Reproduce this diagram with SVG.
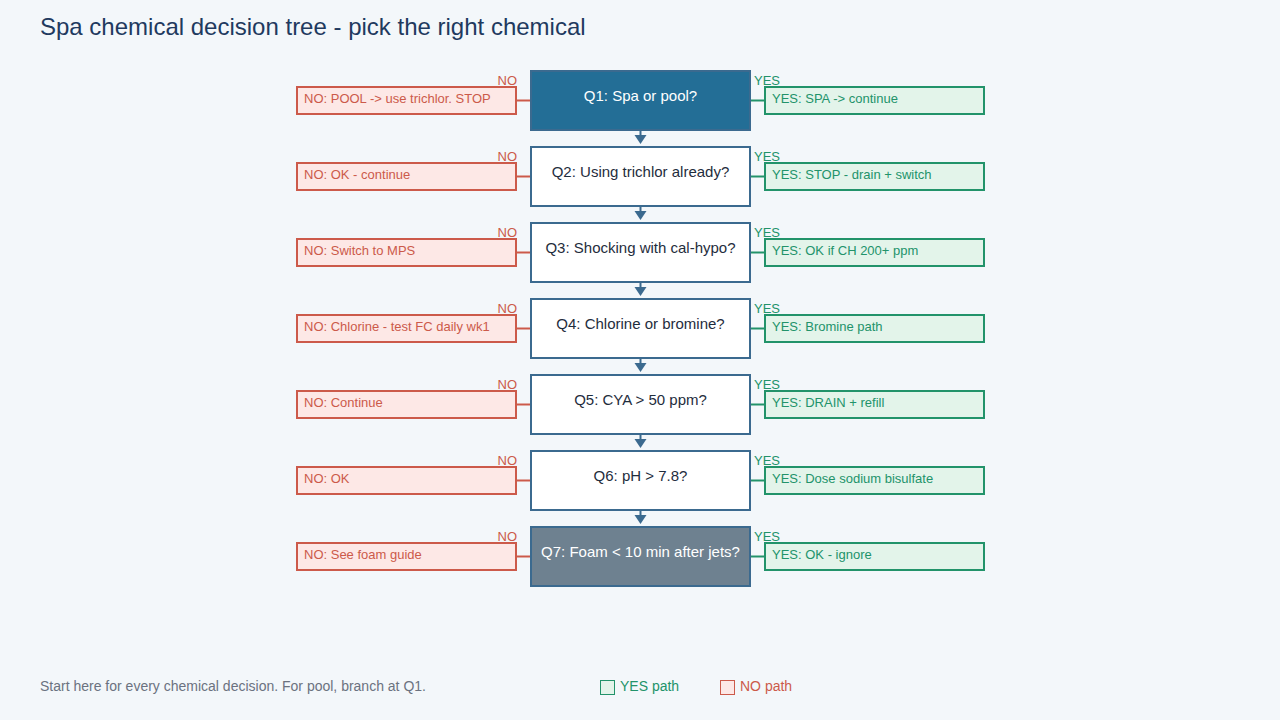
<svg xmlns="http://www.w3.org/2000/svg" width="1280" height="720" viewBox="0 0 1280 720">
<defs>
<style>
text{font-family:"Liberation Sans",Arial,sans-serif}
.q{fill:#ffffff;stroke:#3b6a8f;stroke-width:2}
.qt{font-size:15px;fill:#1f2d3d;text-anchor:middle}
.qtw{font-size:15px;fill:#ffffff;text-anchor:middle}
.no{fill:#fde8e6;stroke:#cc5a4a;stroke-width:2}
.yes{fill:#e3f4ea;stroke:#22936a;stroke-width:2}
.nt{font-size:13px;fill:#cc5a4a}
.yt{font-size:13px;fill:#22936a}
.nl{font-size:13px;fill:#cc5a4a;text-anchor:end}
.yl{font-size:13px;fill:#22936a}
.cn{stroke:#cc5a4a;stroke-width:2}
.cy{stroke:#22936a;stroke-width:2}
.cd{stroke:#3b6a8f;stroke-width:2}
.ah{fill:#3b6a8f}
</style>
</defs>
<rect width="1280" height="720" fill="#f3f7fa"/>
<text x="40" y="35" font-size="24" fill="#1f3a5f">Spa chemical decision tree - pick the right chemical</text>

<g id="connectors">
<line class="cd" x1="640.5" y1="130" x2="640.5" y2="137"/><path class="ah" d="M634.5,135 L646.5,135 L640.5,144 Z"/>
<line class="cd" x1="640.5" y1="206" x2="640.5" y2="213"/><path class="ah" d="M634.5,211 L646.5,211 L640.5,220 Z"/>
<line class="cd" x1="640.5" y1="282" x2="640.5" y2="289"/><path class="ah" d="M634.5,287 L646.5,287 L640.5,296 Z"/>
<line class="cd" x1="640.5" y1="358" x2="640.5" y2="365"/><path class="ah" d="M634.5,363 L646.5,363 L640.5,372 Z"/>
<line class="cd" x1="640.5" y1="434" x2="640.5" y2="441"/><path class="ah" d="M634.5,439 L646.5,439 L640.5,448 Z"/>
<line class="cd" x1="640.5" y1="510" x2="640.5" y2="517"/><path class="ah" d="M634.5,515 L646.5,515 L640.5,524 Z"/>
<line class="cn" x1="516" y1="100.5" x2="531" y2="100.5"/><line class="cy" x1="750" y1="100.5" x2="765" y2="100.5"/>
<line class="cn" x1="516" y1="176.5" x2="531" y2="176.5"/><line class="cy" x1="750" y1="176.5" x2="765" y2="176.5"/>
<line class="cn" x1="516" y1="252.5" x2="531" y2="252.5"/><line class="cy" x1="750" y1="252.5" x2="765" y2="252.5"/>
<line class="cn" x1="516" y1="328.5" x2="531" y2="328.5"/><line class="cy" x1="750" y1="328.5" x2="765" y2="328.5"/>
<line class="cn" x1="516" y1="404.5" x2="531" y2="404.5"/><line class="cy" x1="750" y1="404.5" x2="765" y2="404.5"/>
<line class="cn" x1="516" y1="480.5" x2="531" y2="480.5"/><line class="cy" x1="750" y1="480.5" x2="765" y2="480.5"/>
<line class="cn" x1="516" y1="556.5" x2="531" y2="556.5"/><line class="cy" x1="750" y1="556.5" x2="765" y2="556.5"/>
</g>

<g id="q1">
<rect x="531" y="71" width="219" height="59" fill="#236e96" stroke="#3b6a8f" stroke-width="2"/>
<text class="qtw" x="640.5" y="101">Q1: Spa or pool?</text>
<text class="nl" x="517" y="85">NO</text><text class="yl" x="754" y="85">YES</text>
<rect class="no" x="297" y="87" width="219" height="27"/><text class="nt" x="304" y="103">NO: POOL -&gt; use trichlor. STOP</text>
<rect class="yes" x="765" y="87" width="219" height="27"/><text class="yt" x="772" y="103">YES: SPA -&gt; continue</text>
</g>
<g id="q2">
<rect class="q" x="531" y="147" width="219" height="59"/>
<text class="qt" x="640.5" y="177">Q2: Using trichlor already?</text>
<text class="nl" x="517" y="161">NO</text><text class="yl" x="754" y="161">YES</text>
<rect class="no" x="297" y="163" width="219" height="27"/><text class="nt" x="304" y="179">NO: OK - continue</text>
<rect class="yes" x="765" y="163" width="219" height="27"/><text class="yt" x="772" y="179">YES: STOP - drain + switch</text>
</g>
<g id="q3">
<rect class="q" x="531" y="223" width="219" height="59"/>
<text class="qt" x="640.5" y="253">Q3: Shocking with cal-hypo?</text>
<text class="nl" x="517" y="237">NO</text><text class="yl" x="754" y="237">YES</text>
<rect class="no" x="297" y="239" width="219" height="27"/><text class="nt" x="304" y="255">NO: Switch to MPS</text>
<rect class="yes" x="765" y="239" width="219" height="27"/><text class="yt" x="772" y="255">YES: OK if CH 200+ ppm</text>
</g>
<g id="q4">
<rect class="q" x="531" y="299" width="219" height="59"/>
<text class="qt" x="640.5" y="329">Q4: Chlorine or bromine?</text>
<text class="nl" x="517" y="313">NO</text><text class="yl" x="754" y="313">YES</text>
<rect class="no" x="297" y="315" width="219" height="27"/><text class="nt" x="304" y="331">NO: Chlorine - test FC daily wk1</text>
<rect class="yes" x="765" y="315" width="219" height="27"/><text class="yt" x="772" y="331">YES: Bromine path</text>
</g>
<g id="q5">
<rect class="q" x="531" y="375" width="219" height="59"/>
<text class="qt" x="640.5" y="405">Q5: CYA &gt; 50 ppm?</text>
<text class="nl" x="517" y="389">NO</text><text class="yl" x="754" y="389">YES</text>
<rect class="no" x="297" y="391" width="219" height="27"/><text class="nt" x="304" y="407">NO: Continue</text>
<rect class="yes" x="765" y="391" width="219" height="27"/><text class="yt" x="772" y="407">YES: DRAIN + refill</text>
</g>
<g id="q6">
<rect class="q" x="531" y="451" width="219" height="59"/>
<text class="qt" x="640.5" y="481">Q6: pH &gt; 7.8?</text>
<text class="nl" x="517" y="465">NO</text><text class="yl" x="754" y="465">YES</text>
<rect class="no" x="297" y="467" width="219" height="27"/><text class="nt" x="304" y="483">NO: OK</text>
<rect class="yes" x="765" y="467" width="219" height="27"/><text class="yt" x="772" y="483">YES: Dose sodium bisulfate</text>
</g>
<g id="q7">
<rect x="531" y="527" width="219" height="59" fill="#6e8190" stroke="#3b6a8f" stroke-width="2"/>
<text class="qtw" x="640.5" y="557">Q7: Foam &lt; 10 min after jets?</text>
<text class="nl" x="517" y="541">NO</text><text class="yl" x="754" y="541">YES</text>
<rect class="no" x="297" y="543" width="219" height="27"/><text class="nt" x="304" y="559">NO: See foam guide</text>
<rect class="yes" x="765" y="543" width="219" height="27"/><text class="yt" x="772" y="559">YES: OK - ignore</text>
</g>

<g id="footer">
<text x="40" y="691" font-size="14" fill="#6b7280">Start here for every chemical decision. For pool, branch at Q1.</text>
<rect x="600.5" y="680.5" width="14" height="14" fill="#e3f4ea" stroke="#22936a" stroke-width="1"/>
<text x="620" y="691" font-size="14" fill="#22936a">YES path</text>
<rect x="720.5" y="680.5" width="14" height="14" fill="#fde8e6" stroke="#cc5a4a" stroke-width="1"/>
<text x="740" y="691" font-size="14" fill="#cc5a4a">NO path</text>
</g>
</svg>
